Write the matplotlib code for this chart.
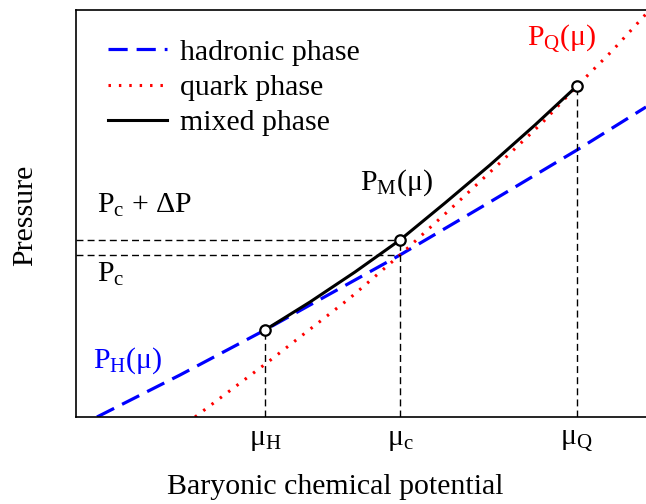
import matplotlib
matplotlib.use('Agg')
import matplotlib.pyplot as plt

plt.rcParams['font.family'] = ['Liberation Serif', 'DejaVu Serif']
plt.rcParams['mathtext.fontset'] = 'custom'
plt.rcParams['mathtext.rm'] = 'Liberation Serif'
plt.rcParams['mathtext.it'] = 'Liberation Serif:italic'

# curves (arbitrary units)
mu_had = [0.21, 1.04, 1.89, 3.24, 4.14, 5.01, 5.70]
p_had = [0.00, 0.42, 0.87, 1.62, 2.15, 2.67, 3.10]

mu_qrk = [1.19, 1.92, 2.74, 3.24, 3.81, 4.27, 4.67, 5.01, 5.36, 5.70]
p_qrk = [0.00, 0.55, 1.19, 1.62, 2.14, 2.57, 2.95, 3.31, 3.66, 4.03]

mu_mix = [1.89, 2.34, 2.79, 3.24, 3.69, 4.14, 4.59, 5.01]
p_mix = [0.87, 1.15, 1.45, 1.77, 2.14, 2.52, 2.92, 3.31]

mu_pts = [1.89, 3.24, 5.01]
p_pts = [0.87, 1.77, 3.31]
tick_labels = [r'$\mathrm{μ_H}$', r'$\mathrm{μ_c}$', r'$\mathrm{μ_Q}$']
p_c = 1.62
p_c_dp = 1.77

fs = 21.5

fig = plt.figure(figsize=(6.46, 5.04), dpi=100)
ax = fig.add_axes([76/646, 87/504, 570/646, 407/504])

ax.plot(mu_had, p_had, color='blue', lw=2.3, linestyle=(0, (6, 2.8)), label='hadronic phase')
ax.plot(mu_qrk, p_qrk, color='red', lw=2.2, linestyle=(0, (0.8, 2.6)), label='quark phase')
ax.plot(mu_mix, p_mix, color='black', lw=2.2, label='mixed phase')

# guide lines
ax.plot([0, mu_pts[1]], [p_c, p_c], 'k--', lw=1, dashes=(5, 3))
ax.plot([0, mu_pts[1]], [p_c_dp, p_c_dp], 'k--', lw=1, dashes=(5, 3))
for m, p in zip(mu_pts, p_pts):
    ax.plot([m, m], [0, p], 'k--', lw=1, dashes=(5, 3))

ax.plot(mu_pts, p_pts, 'o', ms=7.5, mfc='white', mec='black', mew=1.6, zorder=5)

ax.text(0.21, 2.04, r'$\mathrm{P_c}$ + ΔP', fontsize=fs)
ax.text(0.21, 1.35, r'$\mathrm{P_c}$', fontsize=fs)
ax.text(0.17, 0.49, r'$\mathrm{P_H(μ)}$', fontsize=fs, color='blue')
ax.text(2.84, 2.27, r'$\mathrm{P_M(μ)}$', fontsize=fs)
ax.text(4.51, 3.72, r'$\mathrm{P_Q(μ)}$', fontsize=fs, color='red')

ax.set_xlim(0, 5.70)
ax.set_ylim(0, 4.07)
ax.set_xticks(mu_pts)
ax.set_xticklabels(tick_labels, fontsize=fs)
ax.set_yticks([])
ax.tick_params(axis='x', length=0, pad=7)
ax.spines['right'].set_visible(False)
for s in ['left', 'top', 'bottom']:
    ax.spines[s].set_linewidth(1.2)

ax.legend(loc='upper left', bbox_to_anchor=(0.02, 0.98), frameon=False, fontsize=fs,
          handlelength=1.95, handletextpad=0.45, labelspacing=0.28, borderpad=0.2)

fig.text(335/646, 1 - 487/504, 'Baryonic chemical potential', fontsize=fs, ha='center', va='center')
fig.text(25/646, 1 - 215/504, 'Pressure', fontsize=fs, ha='center', va='center', rotation=90)

fig.savefig('out.png', dpi=100)
